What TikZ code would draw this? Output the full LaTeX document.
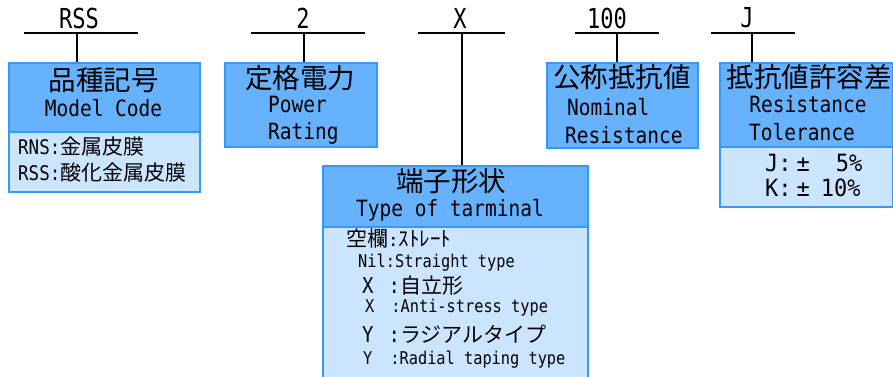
\documentclass[tikz,border=0pt]{standalone}
\usepackage{fontspec}
\usepackage{graphicx}
\setmainfont{DejaVu Sans Mono}
\newfontfamily\jp{Noto Sans CJK JP}
\newfontfamily\lat{DejaVu Sans Mono}
\definecolor{bordc}{RGB}{51,153,255}
\definecolor{hdrc}{RGB}{102,178,255}
\definecolor{bodc}{RGB}{204,229,255}
\newcommand{\fs}[1]{\fontsize{#1}{#1}\selectfont}
\newcommand{\ys}[2]{\scalebox{1}[#1]{#2}}
\tikzset{
  hdr/.style={draw=bordc, fill=hdrc, line width=2pt, inner sep=0pt, anchor=north west},
  bod/.style={draw=bordc, fill=bodc, line width=2pt, inner sep=0pt, anchor=north west},
  conn/.style={draw=black, line width=2pt},
  lbl/.style={inner sep=0pt, font=\lat\fs{22}},
  hj/.style={inner sep=0pt, font=\jp\fs{27.5}},
  hl/.style={inner sep=0pt, font=\lat\fs{19.5}},
  bt/.style={inner sep=0pt, anchor=west},
}
\begin{document}
\begin{tikzpicture}[x=1pt,y=-1pt]
\useasboundingbox (0,0) rectangle (893,376);
\clip (0,0) rectangle (893,376);
\fill[white] (0,0) rectangle (893,376);

% boxes
\node[hdr, minimum width=191pt, minimum height=69pt] (b1h) at (8,62) {};
\node[bod, minimum width=191pt, minimum height=60pt] (b1b) at (8,131) {};
\node[hdr, minimum width=152pt, minimum height=84pt] (b2h) at (224,62) {};
\node[bod, minimum width=265pt, minimum height=160pt] (b3b) at (322,226) {};
\node[hdr, minimum width=265pt, minimum height=61pt] (b3h) at (322,165) {};
\node[hdr, minimum width=151pt, minimum height=85pt] (b4h) at (546,62) {};
\node[bod, minimum width=173pt, minimum height=60pt] (b5b) at (719,146) {};
\node[hdr, minimum width=173pt, minimum height=84pt] (b5h) at (719,62) {};

% top labels
\node[lbl] (l1) at (79,18) {\ys{1.25}{RSS}};
\node[lbl] (l2) at (303,18) {\ys{1.25}{2}};
\node[lbl] (l3) at (460,18) {\ys{1.25}{X}};
\node[lbl] (l4) at (607,18) {\ys{1.25}{100}};
\node[lbl] (l5) at (747,18) {\ys{1.25}{J}};

% connectors
\coordinate (h1a) at (24,33);  \coordinate (h1b) at (138,33); \coordinate (t1) at (77,33);
\coordinate (h2a) at (251,33); \coordinate (h2b) at (365,33); \coordinate (t2) at (304,33);
\coordinate (h3a) at (418,33); \coordinate (h3b) at (505,33); \coordinate (t3) at (462,33);
\coordinate (h4a) at (575,33); \coordinate (h4b) at (659,33); \coordinate (t4) at (617,33);
\coordinate (h5a) at (711,33); \coordinate (h5b) at (795,33); \coordinate (t5) at (752,33);
\draw[conn] (h1a) -- (h1b); \draw[conn] (t1) -- (t1 |- b1h.north);
\draw[conn] (h2a) -- (h2b); \draw[conn] (t2) -- (t2 |- b2h.north);
\draw[conn] (h3a) -- (h3b); \draw[conn] (t3) -- (t3 |- b3h.north);
\draw[conn] (h4a) -- (h4b); \draw[conn] (t4) -- (t4 |- b4h.north);
\draw[conn] (h5a) -- (h5b); \draw[conn] (t5) -- (t5 |- b5h.north);

% box 1
\node[hj] (b1t1) at (103.5,80) {品種記号};
\node[hl] (b1t2) at (103.5,108) {\ys{1.15}{Model Code}};
\node[bt] (b1l1) at (18,147) {\lat\fs{17.5}\ys{1.15}{RNS:}\jp\fs{21}金属皮膜};
\node[bt] (b1l2) at (18,173) {\lat\fs{17.5}\ys{1.15}{RSS:}\jp\fs{21}酸化金属皮膜};

% box 2
\node[hj] (b2t1) at (300,78) {定格電力};
\node[hl,anchor=west] (b2t2) at (268,104) {\ys{1.15}{Power}};
\node[hl,anchor=west] (b2t3) at (268,133) {\ys{1.15}{Rating}};

% box 3
\node[hj] (b3t1) at (451,181) {端子形状};
\node[hl] (b3t2) at (450,210) {\ys{1.15}{Type of tarminal}};
\node[bt] (b3l1) at (346,239) {\jp\fs{21}空欄\lat\fs{17.5}:\jp\fs{21}ｽﾄﾚｰﾄ};
\node[bt,font=\lat\fs{15.3}] (b3l2) at (358,263) {\ys{1.15}{Nil:Straight type}};
\node[bt] (b3l3) at (362,286) {\lat\fs{19}\ys{1.15}{X\hspace{15pt}:}\jp\fs{21}自立形};
\node[bt,font=\lat\fs{15.3}] (b3l4) at (365,308) {\ys{1.15}{X\hspace{17pt}:Anti-stress type}};
\node[bt] (b3l5) at (362,334) {\lat\fs{19}\ys{1.15}{Y\hspace{15pt}:}\jp\fs{21}ラジアルタイプ};
\node[bt,font=\lat\fs{15.3}] (b3l6) at (363,360) {\ys{1.15}{Y\hspace{18pt}:Radial taping type}};

% box 4
\node[hj] (b4t1) at (622,77) {公称抵抗値};
\node[hl,anchor=west] (b4t2) at (567,107) {\ys{1.15}{Nominal}};
\node[hl,anchor=west] (b4t3) at (565,135) {\ys{1.15}{Resistance}};

% box 5
\node[hj] (b5t1) at (809,77) {抵抗値許容差};
\node[hl] (b5t2) at (808,104) {\ys{1.15}{Resistance}};
\node[hl] (b5t3) at (802,132) {\ys{1.15}{Tolerance}};
\node[bt] (b5l1) at (765,163) {\lat\fs{22}\ys{1.08}{J:\hspace{5pt}±\hspace{26pt}5\%}};
\node[bt] (b5l2) at (765,188) {\lat\fs{22}\ys{1.08}{K:\hspace{5pt}±\hspace{11pt}10\%}};
\end{tikzpicture}
\end{document}
